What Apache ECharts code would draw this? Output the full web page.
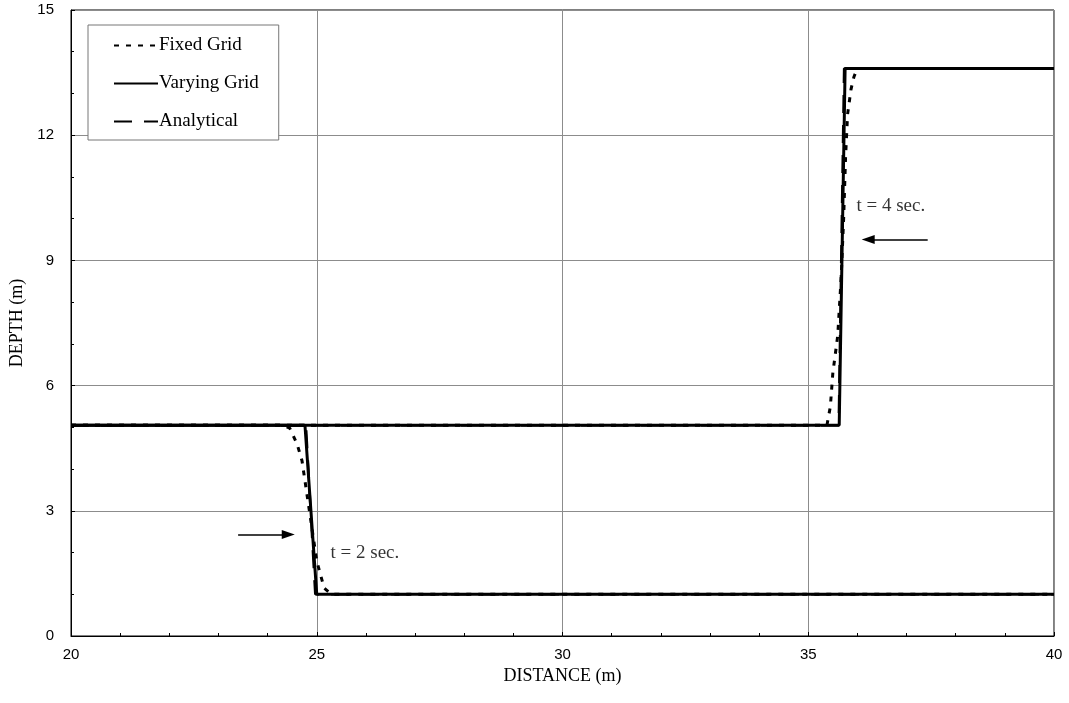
<!DOCTYPE html>
<html>
<head>
<meta charset="utf-8">
<script src="https://cdn.jsdelivr.net/npm/echarts@6/dist/echarts.min.js"></script>
<style>
  html, body { margin: 0; padding: 0; background: #fff; }
  #chart { width: 1069px; height: 703px; }
</style>
</head>
<body>
<div id="chart"></div>
<script>
// Water depth profiles of a moving bore at two times, three solutions each.
const xTicks = [20, 25, 30, 35, 40];
const yTicks = [0, 3, 6, 9, 12, 15];

// t = 2 sec. profiles: [distance (m), depth (m)]
const fixedT2 = [[20, 5.05], [24.3, 5.05], [24.45, 4.98], [24.6, 4.6], [24.7, 4.2], [24.85, 3.0], [25.0, 1.8], [25.15, 1.15], [25.3, 1.0], [40, 1.0]];
const varyingT2 = [[20, 5.05], [24.76, 5.05], [25.0, 1.0], [40, 1.0]];
const analyticalT2 = [[20, 5.05], [24.78, 5.05], [24.97, 1.0], [40, 1.0]];

// t = 4 sec. profiles
const fixedT4 = [[20, 5.05], [35.38, 5.05], [35.45, 5.5], [35.5, 6.3], [35.6, 7.2], [35.67, 8.6], [35.72, 10.0], [35.76, 11.5], [35.8, 12.5], [35.87, 13.1], [35.93, 13.4], [36.0, 13.6], [40, 13.6]];
const varyingT4 = [[20, 5.05], [35.63, 5.05], [35.75, 13.6], [40, 13.6]];
const analyticalT4 = [[20, 5.05], [35.62, 5.05], [35.73, 13.6], [40, 13.6]];

// Annotations: arrow start/end and label anchors
const arrowT2 = [[23.4, 2.43], [24.42, 2.43]];
const arrowT4 = [[37.43, 9.5], [36.22, 9.5]];
const notes = [
  { value: [25.28, 2.0], text: 't = 2 sec.' },
  { value: [35.98, 10.3], text: 't = 4 sec.' }
];

const serif = '"Liberation Serif", "Times New Roman", serif';
const sans = '"Liberation Sans", Arial, sans-serif';

const styles = {
  'Fixed Grid': { type: [5, 7], width: 3 },
  'Varying Grid': { type: 'solid', width: 3 },
  'Analytical': { type: [18, 12], width: 2.5 }
};

function lineSeries(name, data, z) {
  return {
    name: name,
    type: 'line',
    data: data,
    symbol: 'none',
    z: z,
    animation: false,
    color: '#000',
    itemStyle: { color: '#000' },
    lineStyle: { color: '#000', width: styles[name].width, type: styles[name].type, cap: 'butt' }
  };
}

function arrow(pts) {
  return {
    silent: true,
    symbol: ['none', 'triangle'],
    symbolSize: [9, 13],
    label: { show: false },
    lineStyle: { color: '#000', width: 1.5, type: 'solid' },
    data: [[{ coord: pts[0] }, { coord: pts[1] }]]
  };
}

const chart = echarts.init(document.getElementById('chart'));
chart.setOption({
  backgroundColor: '#fff',
  animation: false,
  grid: { left: 71, top: 10, width: 983, height: 626, show: true, borderColor: '#000', borderWidth: 1 },
  legend: {
    orient: 'vertical',
    left: 88,
    top: 25,
    data: ['Fixed Grid', 'Varying Grid', 'Analytical'],
    itemWidth: 44,
    itemHeight: 12,
    itemGap: 19,
    padding: [11, 20, 9, 25],
    backgroundColor: '#fff',
    borderColor: '#777',
    borderWidth: 1,
    itemStyle: { opacity: 0 },
    textStyle: { fontFamily: serif, fontSize: 19, color: '#000', padding: [0, 0, 0, -4] }
  },
  xAxis: {
    type: 'value',
    min: xTicks[0],
    max: xTicks[xTicks.length - 1],
    interval: 5,
    name: 'DISTANCE (m)',
    nameLocation: 'middle',
    nameGap: 26,
    nameTextStyle: { fontFamily: serif, fontSize: 18, color: '#000' },
    axisLine: { lineStyle: { color: '#000', width: 1 } },
    axisTick: { show: true, inside: true, length: 4, lineStyle: { color: '#000' } },
    minorTick: { show: true, splitNumber: 5, length: 3, lineStyle: { color: '#000' } },
    axisLabel: { fontFamily: sans, fontSize: 15, color: '#000', margin: 11 },
    splitLine: { show: true, lineStyle: { color: '#8c8c8c', width: 1 } }
  },
  yAxis: {
    type: 'value',
    min: yTicks[0],
    max: yTicks[yTicks.length - 1],
    interval: 3,
    name: 'DEPTH (m)',
    nameLocation: 'middle',
    nameGap: 40,
    nameRotate: 90,
    nameTextStyle: { fontFamily: serif, fontSize: 18, color: '#000' },
    axisLine: { show: true, lineStyle: { color: '#000', width: 1 } },
    axisTick: { show: true, inside: true, length: 4, lineStyle: { color: '#000' } },
    minorTick: { show: true, splitNumber: 3, length: 3, lineStyle: { color: '#000' } },
    axisLabel: { fontFamily: sans, fontSize: 15, color: '#000', margin: 17 },
    splitLine: { show: true, lineStyle: { color: '#8c8c8c', width: 1 } }
  },
  series: [
    lineSeries('Fixed Grid', fixedT2, 3),
    lineSeries('Fixed Grid', fixedT4, 3),
    lineSeries('Analytical', analyticalT2, 4),
    lineSeries('Analytical', analyticalT4, 4),
    Object.assign(lineSeries('Varying Grid', varyingT2, 5), { markLine: arrow(arrowT2) }),
    Object.assign(lineSeries('Varying Grid', varyingT4, 5), { markLine: arrow(arrowT4) }),
    {
      type: 'scatter',
      symbolSize: 0,
      silent: true,
      z: 6,
      data: notes.map(n => ({ value: n.value, name: n.text })),
      label: {
        show: true,
        position: 'right',
        distance: 0,
        formatter: p => p.name,
        fontFamily: serif,
        fontSize: 19,
        color: '#000'
      }
    }
  ]
});
</script>
</body>
</html>
